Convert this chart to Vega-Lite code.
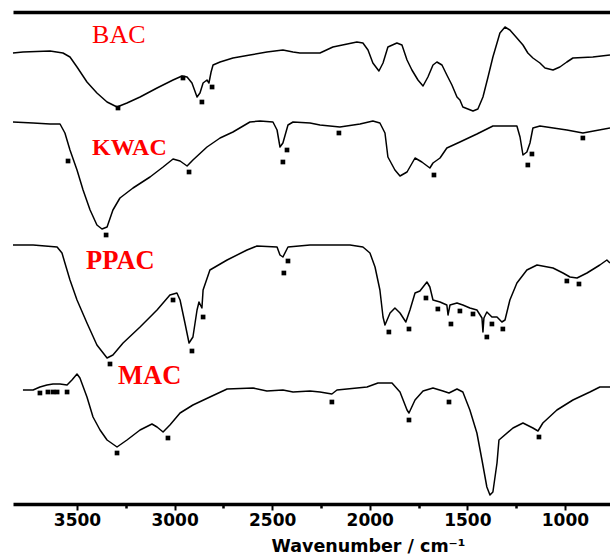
{
  "$schema": "https://vega.github.io/schema/vega-lite/v6.json",
  "width": 597,
  "height": 492,
  "autosize": {"type": "none"},
  "padding": {"left": 13, "top": 12, "right": 0, "bottom": 52},
  "background": "white",
  "config": {"view": {"stroke": null}, "axis": {"grid": false}},
  "datasets": {
    "spectra": [
      {"s":"BAC","wn":3828,"v":452},{"s":"BAC","wn":3777,"v":453},{"s":"BAC","wn":3638,"v":454},{"s":"BAC","wn":3572,"v":452},{"s":"BAC","wn":3536,"v":448},{"s":"BAC","wn":3500,"v":438},{"s":"BAC","wn":3449,"v":423},{"s":"BAC","wn":3398,"v":412},{"s":"BAC","wn":3346,"v":403},{"s":"BAC","wn":3295,"v":398},{"s":"BAC","wn":3244,"v":402},{"s":"BAC","wn":3177,"v":408},{"s":"BAC","wn":3090,"v":417},{"s":"BAC","wn":3008,"v":425},{"s":"BAC","wn":2962,"v":429},{"s":"BAC","wn":2936,"v":428},{"s":"BAC","wn":2911,"v":422},{"s":"BAC","wn":2885,"v":408},{"s":"BAC","wn":2870,"v":412},{"s":"BAC","wn":2854,"v":422},{"s":"BAC","wn":2834,"v":425},{"s":"BAC","wn":2824,"v":422},{"s":"BAC","wn":2813,"v":433},{"s":"BAC","wn":2803,"v":440},{"s":"BAC","wn":2767,"v":443},{"s":"BAC","wn":2701,"v":447},{"s":"BAC","wn":2614,"v":450},{"s":"BAC","wn":2527,"v":453},{"s":"BAC","wn":2445,"v":455},{"s":"BAC","wn":2393,"v":453},{"s":"BAC","wn":2358,"v":452},{"s":"BAC","wn":2255,"v":452},{"s":"BAC","wn":2189,"v":458},{"s":"BAC","wn":2066,"v":463},{"s":"BAC","wn":2035,"v":462},{"s":"BAC","wn":2009,"v":455},{"s":"BAC","wn":1984,"v":442},{"s":"BAC","wn":1953,"v":434},{"s":"BAC","wn":1932,"v":442},{"s":"BAC","wn":1907,"v":458},{"s":"BAC","wn":1861,"v":462},{"s":"BAC","wn":1835,"v":460},{"s":"BAC","wn":1809,"v":445},{"s":"BAC","wn":1784,"v":435},{"s":"BAC","wn":1753,"v":425},{"s":"BAC","wn":1727,"v":419},{"s":"BAC","wn":1702,"v":428},{"s":"BAC","wn":1676,"v":440},{"s":"BAC","wn":1656,"v":443},{"s":"BAC","wn":1630,"v":440},{"s":"BAC","wn":1605,"v":430},{"s":"BAC","wn":1579,"v":420},{"s":"BAC","wn":1553,"v":408},{"s":"BAC","wn":1538,"v":405},{"s":"BAC","wn":1523,"v":398},{"s":"BAC","wn":1471,"v":394},{"s":"BAC","wn":1446,"v":396},{"s":"BAC","wn":1420,"v":408},{"s":"BAC","wn":1394,"v":428},{"s":"BAC","wn":1369,"v":448},{"s":"BAC","wn":1333,"v":472},{"s":"BAC","wn":1307,"v":478},{"s":"BAC","wn":1282,"v":475},{"s":"BAC","wn":1246,"v":467},{"s":"BAC","wn":1215,"v":460},{"s":"BAC","wn":1190,"v":452},{"s":"BAC","wn":1164,"v":447},{"s":"BAC","wn":1128,"v":442},{"s":"BAC","wn":1102,"v":437},{"s":"BAC","wn":1061,"v":435},{"s":"BAC","wn":1026,"v":438},{"s":"BAC","wn":990,"v":443},{"s":"BAC","wn":959,"v":447},{"s":"BAC","wn":857,"v":448},{"s":"BAC","wn":769,"v":450},
      {"s":"KWAC","wn":3828,"v":383},{"s":"KWAC","wn":3725,"v":382},{"s":"KWAC","wn":3638,"v":381},{"s":"KWAC","wn":3587,"v":381},{"s":"KWAC","wn":3562,"v":372},{"s":"KWAC","wn":3536,"v":355},{"s":"KWAC","wn":3500,"v":335},{"s":"KWAC","wn":3469,"v":315},{"s":"KWAC","wn":3433,"v":295},{"s":"KWAC","wn":3398,"v":280},{"s":"KWAC","wn":3372,"v":276},{"s":"KWAC","wn":3346,"v":278},{"s":"KWAC","wn":3316,"v":295},{"s":"KWAC","wn":3280,"v":307},{"s":"KWAC","wn":3213,"v":317},{"s":"KWAC","wn":3126,"v":328},{"s":"KWAC","wn":3059,"v":338},{"s":"KWAC","wn":3008,"v":346},{"s":"KWAC","wn":2972,"v":344},{"s":"KWAC","wn":2936,"v":339},{"s":"KWAC","wn":2906,"v":345},{"s":"KWAC","wn":2834,"v":358},{"s":"KWAC","wn":2767,"v":367},{"s":"KWAC","wn":2701,"v":373},{"s":"KWAC","wn":2614,"v":383},{"s":"KWAC","wn":2562,"v":384},{"s":"KWAC","wn":2496,"v":383},{"s":"KWAC","wn":2475,"v":375},{"s":"KWAC","wn":2460,"v":358},{"s":"KWAC","wn":2445,"v":362},{"s":"KWAC","wn":2419,"v":380},{"s":"KWAC","wn":2393,"v":383},{"s":"KWAC","wn":2306,"v":382},{"s":"KWAC","wn":2255,"v":380},{"s":"KWAC","wn":2153,"v":378},{"s":"KWAC","wn":2050,"v":381},{"s":"KWAC","wn":1984,"v":384},{"s":"KWAC","wn":1948,"v":382},{"s":"KWAC","wn":1922,"v":372},{"s":"KWAC","wn":1907,"v":348},{"s":"KWAC","wn":1871,"v":335},{"s":"KWAC","wn":1845,"v":329},{"s":"KWAC","wn":1809,"v":333},{"s":"KWAC","wn":1768,"v":347},{"s":"KWAC","wn":1733,"v":343},{"s":"KWAC","wn":1692,"v":337},{"s":"KWAC","wn":1676,"v":342},{"s":"KWAC","wn":1640,"v":347},{"s":"KWAC","wn":1605,"v":357},{"s":"KWAC","wn":1538,"v":363},{"s":"KWAC","wn":1451,"v":371},{"s":"KWAC","wn":1369,"v":379},{"s":"KWAC","wn":1246,"v":379},{"s":"KWAC","wn":1230,"v":368},{"s":"KWAC","wn":1215,"v":350},{"s":"KWAC","wn":1195,"v":353},{"s":"KWAC","wn":1179,"v":362},{"s":"KWAC","wn":1164,"v":377},{"s":"KWAC","wn":1128,"v":379},{"s":"KWAC","wn":990,"v":375},{"s":"KWAC","wn":908,"v":372},{"s":"KWAC","wn":769,"v":377},
      {"s":"PPAC","wn":3828,"v":260},{"s":"PPAC","wn":3725,"v":260},{"s":"PPAC","wn":3602,"v":258},{"s":"PPAC","wn":3577,"v":252},{"s":"PPAC","wn":3562,"v":242},{"s":"PPAC","wn":3536,"v":225},{"s":"PPAC","wn":3500,"v":205},{"s":"PPAC","wn":3449,"v":182},{"s":"PPAC","wn":3398,"v":160},{"s":"PPAC","wn":3346,"v":147},{"s":"PPAC","wn":3316,"v":150},{"s":"PPAC","wn":3264,"v":162},{"s":"PPAC","wn":3177,"v":178},{"s":"PPAC","wn":3090,"v":195},{"s":"PPAC","wn":3024,"v":210},{"s":"PPAC","wn":2988,"v":212},{"s":"PPAC","wn":2972,"v":205},{"s":"PPAC","wn":2947,"v":182},{"s":"PPAC","wn":2926,"v":162},{"s":"PPAC","wn":2906,"v":168},{"s":"PPAC","wn":2885,"v":195},{"s":"PPAC","wn":2875,"v":203},{"s":"PPAC","wn":2860,"v":197},{"s":"PPAC","wn":2854,"v":215},{"s":"PPAC","wn":2819,"v":235},{"s":"PPAC","wn":2731,"v":245},{"s":"PPAC","wn":2629,"v":255},{"s":"PPAC","wn":2578,"v":259},{"s":"PPAC","wn":2475,"v":258},{"s":"PPAC","wn":2460,"v":250},{"s":"PPAC","wn":2445,"v":248},{"s":"PPAC","wn":2419,"v":258},{"s":"PPAC","wn":2306,"v":260},{"s":"PPAC","wn":2101,"v":260},{"s":"PPAC","wn":2035,"v":258},{"s":"PPAC","wn":1999,"v":252},{"s":"PPAC","wn":1973,"v":238},{"s":"PPAC","wn":1948,"v":215},{"s":"PPAC","wn":1932,"v":188},{"s":"PPAC","wn":1922,"v":180},{"s":"PPAC","wn":1896,"v":192},{"s":"PPAC","wn":1871,"v":197},{"s":"PPAC","wn":1845,"v":192},{"s":"PPAC","wn":1815,"v":183},{"s":"PPAC","wn":1794,"v":195},{"s":"PPAC","wn":1768,"v":212},{"s":"PPAC","wn":1743,"v":214},{"s":"PPAC","wn":1707,"v":223},{"s":"PPAC","wn":1692,"v":218},{"s":"PPAC","wn":1676,"v":205},{"s":"PPAC","wn":1640,"v":203},{"s":"PPAC","wn":1605,"v":200},{"s":"PPAC","wn":1599,"v":190},{"s":"PPAC","wn":1589,"v":200},{"s":"PPAC","wn":1553,"v":202},{"s":"PPAC","wn":1523,"v":200},{"s":"PPAC","wn":1487,"v":197},{"s":"PPAC","wn":1451,"v":195},{"s":"PPAC","wn":1425,"v":187},{"s":"PPAC","wn":1420,"v":173},{"s":"PPAC","wn":1415,"v":187},{"s":"PPAC","wn":1400,"v":193},{"s":"PPAC","wn":1374,"v":188},{"s":"PPAC","wn":1348,"v":188},{"s":"PPAC","wn":1323,"v":183},{"s":"PPAC","wn":1307,"v":185},{"s":"PPAC","wn":1282,"v":205},{"s":"PPAC","wn":1246,"v":222},{"s":"PPAC","wn":1195,"v":235},{"s":"PPAC","wn":1143,"v":240},{"s":"PPAC","wn":1061,"v":237},{"s":"PPAC","wn":1010,"v":232},{"s":"PPAC","wn":974,"v":228},{"s":"PPAC","wn":938,"v":227},{"s":"PPAC","wn":887,"v":232},{"s":"PPAC","wn":821,"v":240},{"s":"PPAC","wn":785,"v":245},{"s":"PPAC","wn":769,"v":242},
      {"s":"MAC","wn":3777,"v":115},{"s":"MAC","wn":3725,"v":115},{"s":"MAC","wn":3690,"v":118},{"s":"MAC","wn":3654,"v":120},{"s":"MAC","wn":3623,"v":121},{"s":"MAC","wn":3587,"v":121},{"s":"MAC","wn":3551,"v":120},{"s":"MAC","wn":3526,"v":125},{"s":"MAC","wn":3500,"v":131},{"s":"MAC","wn":3485,"v":127},{"s":"MAC","wn":3449,"v":108},{"s":"MAC","wn":3418,"v":88},{"s":"MAC","wn":3382,"v":75},{"s":"MAC","wn":3346,"v":65},{"s":"MAC","wn":3295,"v":58},{"s":"MAC","wn":3244,"v":65},{"s":"MAC","wn":3177,"v":75},{"s":"MAC","wn":3116,"v":81},{"s":"MAC","wn":3090,"v":78},{"s":"MAC","wn":3059,"v":73},{"s":"MAC","wn":3024,"v":80},{"s":"MAC","wn":2972,"v":92},{"s":"MAC","wn":2906,"v":100},{"s":"MAC","wn":2819,"v":108},{"s":"MAC","wn":2731,"v":116},{"s":"MAC","wn":2598,"v":117},{"s":"MAC","wn":2527,"v":114},{"s":"MAC","wn":2445,"v":115},{"s":"MAC","wn":2393,"v":113},{"s":"MAC","wn":2306,"v":114},{"s":"MAC","wn":2255,"v":113},{"s":"MAC","wn":2194,"v":111},{"s":"MAC","wn":2168,"v":115},{"s":"MAC","wn":2014,"v":118},{"s":"MAC","wn":1958,"v":122},{"s":"MAC","wn":1886,"v":122},{"s":"MAC","wn":1845,"v":113},{"s":"MAC","wn":1809,"v":95},{"s":"MAC","wn":1799,"v":92},{"s":"MAC","wn":1768,"v":105},{"s":"MAC","wn":1727,"v":114},{"s":"MAC","wn":1676,"v":117},{"s":"MAC","wn":1625,"v":114},{"s":"MAC","wn":1594,"v":112},{"s":"MAC","wn":1553,"v":116},{"s":"MAC","wn":1523,"v":113},{"s":"MAC","wn":1487,"v":95},{"s":"MAC","wn":1451,"v":72},{"s":"MAC","wn":1425,"v":45},{"s":"MAC","wn":1400,"v":18},{"s":"MAC","wn":1384,"v":10},{"s":"MAC","wn":1369,"v":13},{"s":"MAC","wn":1348,"v":42},{"s":"MAC","wn":1338,"v":65},{"s":"MAC","wn":1266,"v":77},{"s":"MAC","wn":1215,"v":82},{"s":"MAC","wn":1164,"v":77},{"s":"MAC","wn":1138,"v":74},{"s":"MAC","wn":1113,"v":82},{"s":"MAC","wn":1041,"v":95},{"s":"MAC","wn":959,"v":105},{"s":"MAC","wn":872,"v":113},{"s":"MAC","wn":821,"v":118},{"s":"MAC","wn":769,"v":118}
    ],
    "markers": [
      {"s":"BAC","wn":3290,"v":397},{"s":"BAC","wn":2957,"v":427},{"s":"BAC","wn":2860,"v":403},{"s":"BAC","wn":2808,"v":418},
      {"s":"KWAC","wn":3546,"v":344},{"s":"KWAC","wn":3351,"v":270},{"s":"KWAC","wn":2926,"v":333},{"s":"KWAC","wn":2445,"v":343},{"s":"KWAC","wn":2424,"v":355},{"s":"KWAC","wn":2158,"v":372},{"s":"KWAC","wn":1671,"v":330},{"s":"KWAC","wn":1190,"v":340},{"s":"KWAC","wn":1169,"v":351},{"s":"KWAC","wn":908,"v":367},
      {"s":"PPAC","wn":3008,"v":205},{"s":"PPAC","wn":2911,"v":154},{"s":"PPAC","wn":2854,"v":188},{"s":"PPAC","wn":3331,"v":141},{"s":"PPAC","wn":2440,"v":232},{"s":"PPAC","wn":2419,"v":244},{"s":"PPAC","wn":1902,"v":173},{"s":"PPAC","wn":1799,"v":176},{"s":"PPAC","wn":1712,"v":207},{"s":"PPAC","wn":1651,"v":196},{"s":"PPAC","wn":1584,"v":181},{"s":"PPAC","wn":1538,"v":194},{"s":"PPAC","wn":1471,"v":191},{"s":"PPAC","wn":1400,"v":168},{"s":"PPAC","wn":1374,"v":181},{"s":"PPAC","wn":1318,"v":176},{"s":"PPAC","wn":990,"v":224},{"s":"PPAC","wn":928,"v":221},
      {"s":"MAC","wn":3690,"v":112},{"s":"MAC","wn":3649,"v":113},{"s":"MAC","wn":3623,"v":113},{"s":"MAC","wn":3602,"v":113},{"s":"MAC","wn":3551,"v":113},{"s":"MAC","wn":3295,"v":52},{"s":"MAC","wn":3034,"v":67},{"s":"MAC","wn":2194,"v":103},{"s":"MAC","wn":1799,"v":85},{"s":"MAC","wn":1594,"v":103},{"s":"MAC","wn":1133,"v":68}
    ],
    "labels": [
      {"label":"BAC","wn":3423,"v":462},
      {"label":"KWAC","wn":3423,"v":350},
      {"label":"PPAC","wn":3454,"v":236},
      {"label":"MAC","wn":3290,"v":121}
    ]
  },
  "resolve": {"axis": {"x": "independent"}},
  "layer": [
    {
      "data": {"name": "spectra"},
      "mark": {"type": "line", "color": "black", "strokeWidth": 1.5, "strokeJoin": "round"},
      "encoding": {
        "x": {
          "field": "wn", "type": "quantitative",
          "scale": {"domain": [769, 3828], "reverse": true, "nice": false, "zero": false},
          "axis": {
            "orient": "bottom",
            "values": [3500, 3000, 2500, 2000, 1500, 1000],
            "format": "d",
            "labelFont": "DejaVu Sans", "labelFontWeight": "bold", "labelFontSize": 17, "labelColor": "black",
            "labelPadding": 2,
            "tickSize": 6, "tickWidth": 2, "tickColor": "black",
            "domainColor": "black", "domainWidth": 3.5,
            "title": "Wavenumber / cm⁻¹",
            "titleFont": "DejaVu Sans", "titleFontSize": 17.5, "titleFontWeight": "bold", "titleColor": "black",
            "titleX": 355, "titleY": 47, "titleAlign": "center", "titleBaseline": "alphabetic"
          }
        },
        "y": {
          "field": "v", "type": "quantitative",
          "scale": {"domain": [1, 493], "nice": false, "zero": false},
          "axis": {"domain": true, "domainWidth": 3.5, "domainColor": "black", "ticks": false, "labels": false, "title": null}
        },
        "detail": {"field": "s"}
      }
    },
    {
      "data": {"name": "markers"},
      "mark": {"type": "point", "shape": "square", "filled": true, "color": "black", "size": 22, "opacity": 1},
      "encoding": {
        "x": {
          "field": "wn", "type": "quantitative",
          "axis": {"orient": "top", "domain": true, "domainWidth": 3.5, "domainColor": "black", "ticks": false, "labels": false, "title": null}
        },
        "y": {"field": "v", "type": "quantitative", "axis": null}
      }
    },
    {
      "data": {"name": "labels"},
      "transform": [{"filter": "datum.label === 'BAC'"}],
      "mark": {"type": "text", "align": "left", "baseline": "alphabetic", "font": "Liberation Serif", "fontSize": 26, "fontWeight": "normal", "color": "#ff0000"},
      "encoding": {
        "x": {
          "field": "wn", "type": "quantitative",
          "axis": {"orient": "bottom", "values": [3250, 2750, 2250, 1750, 1250], "domain": false, "ticks": true, "tickSize": 4, "tickWidth": 2.5, "tickColor": "black", "labels": false, "title": null}
        },
        "y": {"field": "v", "type": "quantitative", "axis": null},
        "text": {"field": "label"}
      }
    },
    {
      "data": {"name": "labels"},
      "transform": [{"filter": "datum.label === 'KWAC'"}],
      "mark": {"type": "text", "align": "left", "baseline": "alphabetic", "font": "Liberation Serif", "fontSize": 24, "fontWeight": "bold", "color": "#ff0000"},
      "encoding": {
        "x": {"field": "wn", "type": "quantitative", "axis": null},
        "y": {"field": "v", "type": "quantitative", "axis": null},
        "text": {"field": "label"}
      }
    },
    {
      "data": {"name": "labels"},
      "transform": [{"filter": "datum.label === 'PPAC' || datum.label === 'MAC'"}],
      "mark": {"type": "text", "align": "left", "baseline": "alphabetic", "font": "Liberation Serif", "fontSize": 26.5, "fontWeight": "bold", "color": "#ff0000"},
      "encoding": {
        "x": {"field": "wn", "type": "quantitative", "axis": null},
        "y": {"field": "v", "type": "quantitative", "axis": null},
        "text": {"field": "label"}
      }
    }
  ]
}
